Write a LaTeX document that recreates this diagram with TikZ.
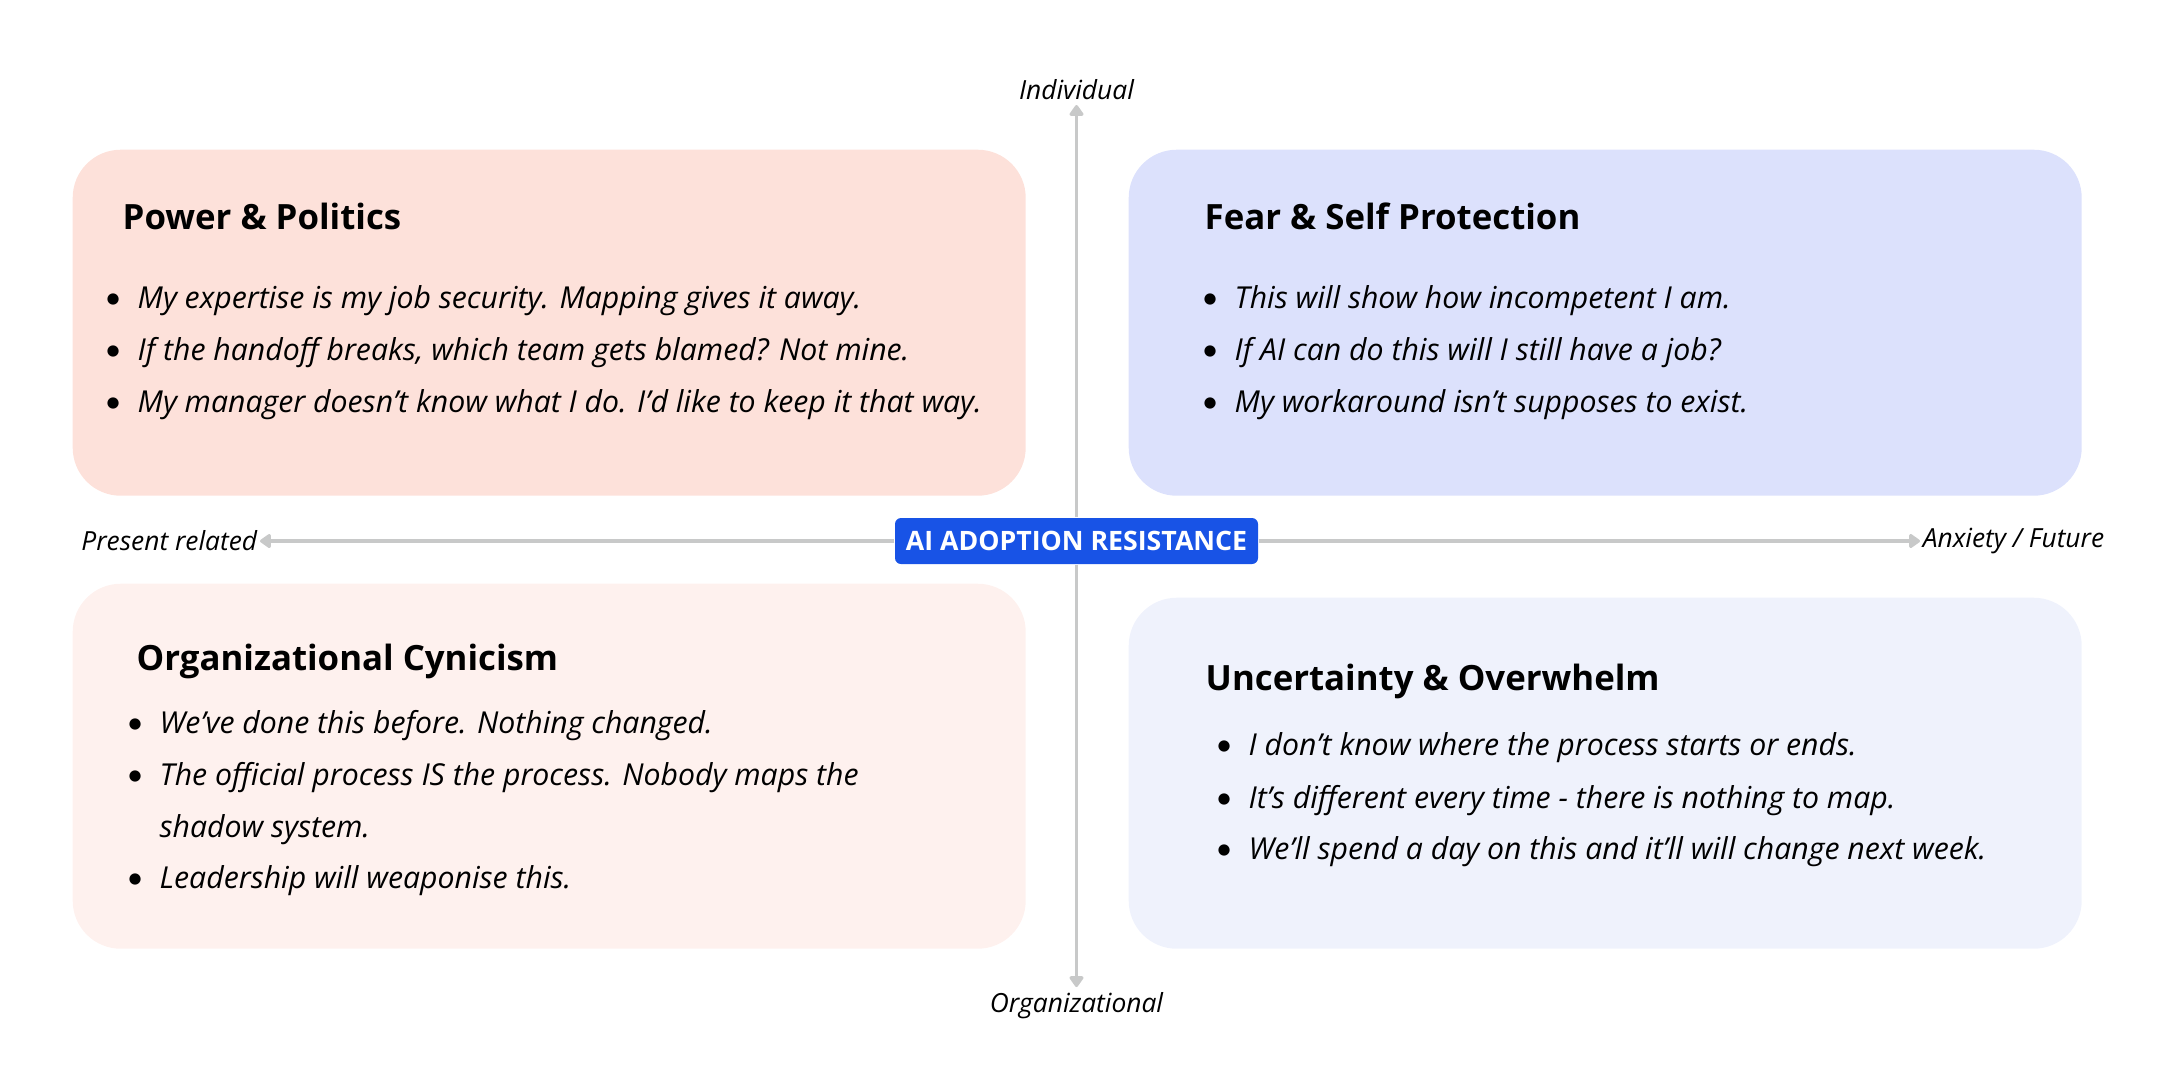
\documentclass[tikz,border=0pt]{standalone}
\usepackage{fontspec}
\setmainfont{Open Sans}
\newfontfamily\bulletfont{Lato}
\usetikzlibrary{arrows.meta,positioning}
\definecolor{powerpink}{HTML}{FDE1DA}
\definecolor{cynicpink}{HTML}{FEF1EE}
\definecolor{fearblue}{HTML}{DCE1FC}
\definecolor{doubtblue}{HTML}{EFF2FC}
\definecolor{hubblue}{HTML}{1853E6}
\definecolor{axisgray}{HTML}{C8C9C9}
\newcommand{\bul}{\llap{{\upshape\bulletfont\textbullet}\hspace{4.5pt}}}

\begin{document}
\begin{tikzpicture}[x=0.1mm, y=-0.1mm,
  quad/.style={anchor=north west, rounded corners=4.8mm, minimum width=95.3mm, inner sep=0pt},
  head/.style={anchor=base west, inner sep=0pt, font=\bfseries\fontsize{9.9}{11}\selectfont},
  quote/.style={anchor=base west, inner sep=0pt, font=\itshape\fontsize{8.6}{10}\selectfont},
  axlabel/.style={inner xsep=0.6pt, inner ysep=1.4pt, font=\itshape\fontsize{7.5}{8}\selectfont},
  axis/.style={-{Triangle[length=1.2mm, width=1.6mm, round]}, line width=0.35mm, draw=axisgray},
]
\useasboundingbox (0,0) rectangle (2160,1080);

% quadrants
\node[quad, fill=powerpink, minimum height=34.6mm] (power) at (72,149) {};
\node[quad, fill=fearblue, minimum height=34.6mm] (fear) at (1128,149) {};
\node[quad, fill=cynicpink, minimum height=36.5mm] (cynic) at (72,583) {};
\node[quad, fill=doubtblue, minimum height=35.1mm] (doubt) at (1128,597) {};

% power & politics
\node[head] (powerhead) at (122,229) {Power \& Politics};
\node[quote] (power1) at (137,308) {\bul My expertise is my job security. Mapping gives it away.};
\node[quote] (power2) at (137,360) {\bul If the handoff breaks, which team gets blamed? Not mine.};
\node[quote] (power3) at (137,412) {\bul My manager doesn’t know what I do. I’d like to keep it that way.};

% fear & self protection
\node[head] (fearhead) at (1204,229) {Fear \& Self Protection};
\node[quote] (fear1) at (1234,308) {\bul This will show how incompetent I am.};
\node[quote] (fear2) at (1234,360) {\bul If AI can do this will I still have a job?};
\node[quote] (fear3) at (1234,412) {\bul My workaround isn’t supposes to exist.};

% organizational cynicism
\node[head] (cynichead) at (136,670) {Organizational Cynicism};
\node[quote] (cynic1) at (159,733) {\bul We’ve done this before. Nothing changed.};
\node[quote] (cynic2) at (159,785) {\bul The official process IS the process. Nobody maps the};
\node[quote] (cynic2b) at (159,837) {shadow system.};
\node[quote] (cynic3) at (159,888) {\bul Leadership will weaponise this.};

% uncertainty & overwhelm
\node[head] (doubthead) at (1205,690) {Uncertainty \& Overwhelm};
\node[quote] (doubt1) at (1248,755) {\bul I don’t know where the process starts or ends.};
\node[quote] (doubt2) at (1248,808) {\bul It’s different every time - there is nothing to map.};
\node[quote] (doubt3) at (1248,859) {\bul We’ll spend a day on this and it’ll will change next week.};

% axes
\node[fill=hubblue, text=white, rounded corners=0.6mm, minimum width=36.3mm, minimum height=4.6mm,
  inner sep=0pt, font=\bfseries\fontsize{7.6}{8}\selectfont] (hub) at (1076.5,541) {AI ADOPTION RESISTANCE};
\node[axlabel, anchor=south] (indiv) at (1076.5,105) {Individual};
\node[axlabel, anchor=north] (org) at (1076.5,987) {Organizational};
\node[axlabel, anchor=east] (present) at (260,541) {Present related};
\node[axlabel, anchor=west] (future) at (1920,541) {Anxiety / Future};

\draw[axis] (hub) -- (indiv);
\draw[axis] (hub) -- (org);
\draw[axis] (hub) -- (present);
\draw[axis] (hub) -- (future);
\end{tikzpicture}
\end{document}
